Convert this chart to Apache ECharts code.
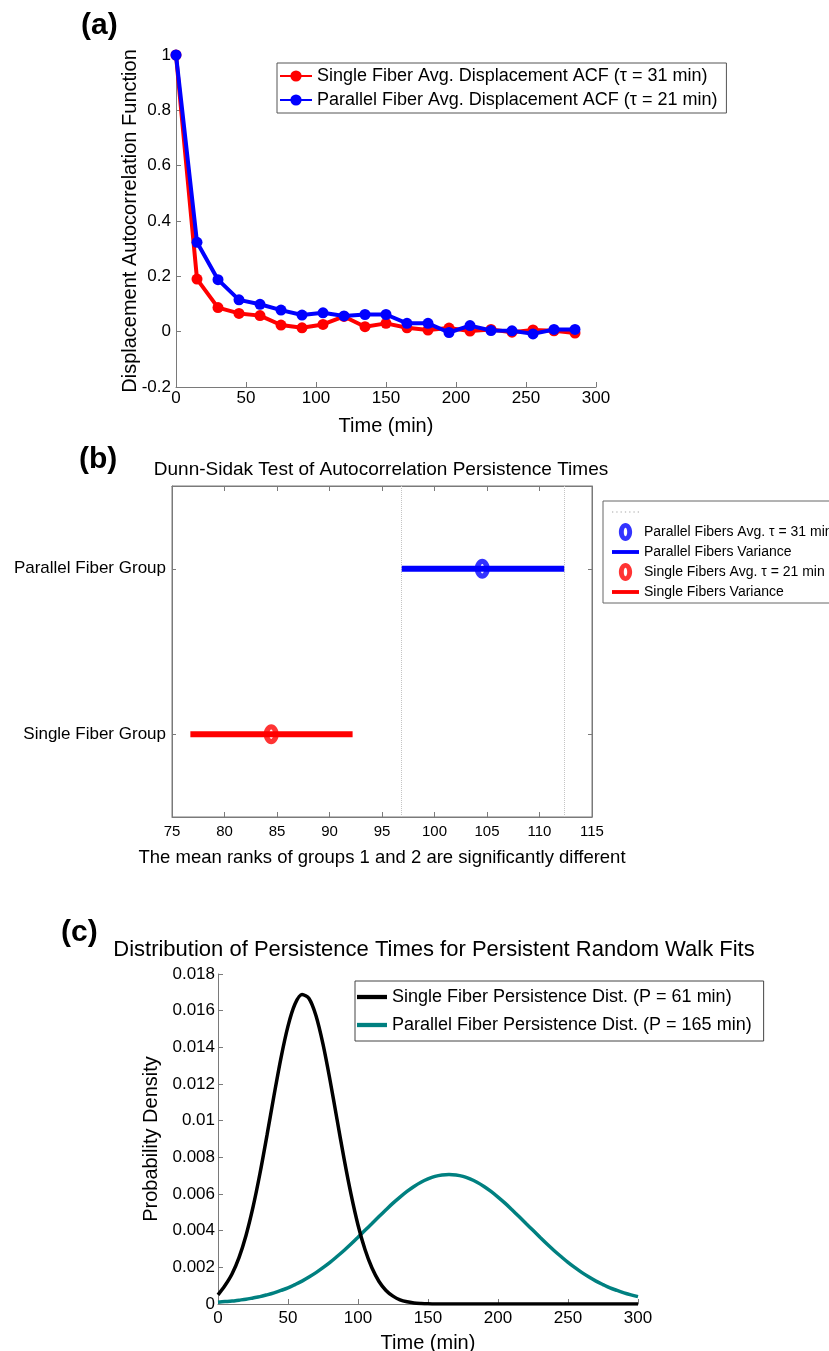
<!DOCTYPE html>
<html>
<head>
<meta charset="utf-8">
<script src="https://cdn.jsdelivr.net/npm/echarts@6/dist/echarts.min.js"></script>
<style>
html,body{margin:0;padding:0;background:#fff;}
#chart{width:829px;height:1351px;}
</style>
</head>
<body>
<div id="chart"></div>
<script>
// ---------- Panel (a): displacement autocorrelation ----------
const acfTimes = [0, 15, 30, 45, 60, 75, 90, 105, 120, 135, 150, 165, 180, 195, 210, 225, 240, 255, 270, 285];
const singleAcf = [1, 0.19, 0.087, 0.066, 0.058, 0.024, 0.014, 0.026, 0.055, 0.018, 0.03, 0.014, 0.006, 0.013, 0.002, 0.008, -0.002, 0.006, 0.003, -0.005];
const parallelAcf = [1, 0.323, 0.188, 0.115, 0.099, 0.078, 0.06, 0.068, 0.057, 0.062, 0.062, 0.03, 0.03, -0.003, 0.022, 0.004, 0.003, -0.008, 0.008, 0.008];
const acfNames = ['Single Fiber Avg. Displacement ACF (\u03c4 = 31 min)', 'Parallel Fiber Avg. Displacement ACF (\u03c4 = 21 min)'];

// ---------- Panel (b): Dunn-Sidak comparison ----------
const groups = ['Single Fiber Group', 'Parallel Fiber Group'];
const groupMeans = [84.45, 104.55];
const groupLow = [76.75, 96.86];
const groupHigh = [92.2, 112.37];
const meanNames = ['Single Fibers Avg. \u03c4 = 21 min', 'Parallel Fibers Avg. \u03c4 = 31 min'];
const varNames = ['Single Fibers Variance', 'Parallel Fibers Variance'];
const groupColors = ['#ff0000', '#0000ff'];

// ---------- Panel (c): persistence time distributions ----------
const pdfTimes = [0, 5, 10, 15, 20, 25, 30, 35, 40, 45, 50, 55, 60, 65, 70, 75, 80, 85, 90, 95, 100, 105, 110, 115, 120, 125, 130, 135, 140, 145, 150,
  155, 160, 165, 170, 175, 180, 185, 190, 195, 200, 205, 210, 215, 220, 225, 230, 235, 240, 245, 250, 255, 260, 265, 270, 275, 280, 285, 290, 295, 300];
const singlePdf = [0.0005, 0.00101, 0.00164, 0.00253, 0.00374, 0.00528, 0.00713, 0.00921, 0.01137, 0.01343, 0.01516, 0.01636, 0.01688, 0.01666, 0.01572, 0.01417,
  0.01222, 0.01008, 0.00794, 0.00599, 0.00431, 0.00297, 0.00196, 0.00123, 0.00074, 0.00043, 0.00023, 0.00012, 0.00006, 0.00003, 0.00001,
  0, 0, 0, 0, 0, 0, 0, 0, 0, 0, 0, 0, 0, 0, 0, 0, 0, 0, 0, 0, 0, 0, 0, 0, 0, 0, 0, 0, 0, 0];
const parallelPdf = [0.0001, 0.00013, 0.00016, 0.00021, 0.00026, 0.00033, 0.0004, 0.0005, 0.00061, 0.00074, 0.00088, 0.00106, 0.00125, 0.00147, 0.00171, 0.00198,
  0.00227, 0.00259, 0.00292, 0.00327, 0.00364, 0.00402, 0.00439, 0.00477, 0.00514, 0.0055, 0.00583, 0.00614, 0.00641, 0.00664, 0.00682,
  0.00696, 0.00704, 0.00707, 0.00704, 0.00696, 0.00682, 0.00664, 0.00641, 0.00614, 0.00583, 0.0055, 0.00514, 0.00477, 0.00439, 0.00402,
  0.00364, 0.00327, 0.00292, 0.00259, 0.00227, 0.00198, 0.00171, 0.00147, 0.00125, 0.00106, 0.00088, 0.00074, 0.00061, 0.0005, 0.0004];
const pdfNames = ['Single Fiber Persistence Dist. (P = 61 min)', 'Parallel Fiber Persistence Dist. (P = 165 min)'];

const FONT = 'Liberation Sans, Arial, Helvetica, sans-serif';
const AX = '#7a7a7a';
const SIG = 'sig';
const DOT = '#c4c4c4';
// hollow ellipse ring (outer clockwise, inner counter-clockwise -> hole)
const ring = 'path://M0,9.5 C0,4.25 3.13,0 7,0 C10.87,0 14,4.25 14,9.5 C14,14.75 10.87,19 7,19 C3.13,19 0,14.75 0,9.5 Z ' +
             'M5.2,9.5 C5.2,11.99 6.01,14 7,14 C7.99,14 8.8,11.99 8.8,9.5 C8.8,7.01 7.99,5 7,5 C6.01,5 5.2,7.01 5.2,9.5 Z';
const bar = 'path://M0,0 H28 V4 H0 Z';
const dots = 'path://M0,0h1.2v1.2h-1.2z M4,0h1.2v1.2h-1.2z M8,0h1.2v1.2h-1.2z M12,0h1.2v1.2h-1.2z M16,0h1.2v1.2h-1.2z M20,0h1.2v1.2h-1.2z M24,0h1.2v1.2h-1.2z';

function axisBase(extra) {
  return Object.assign({
    axisLine: {show: true, onZero: false, lineStyle: {color: AX, width: 1}},
    axisTick: {show: true, inside: true, length: 5, lineStyle: {color: AX}},
    splitLine: {show: false},
    axisLabel: {color: '#000', fontSize: 17, fontFamily: FONT},
    nameTextStyle: {color: '#000', fontSize: 20, fontFamily: FONT},
    nameMoveOverlap: false
  }, extra);
}

const series = [];
// (a)
series.push({
  name: acfNames[0], type: 'line', xAxisIndex: 0, yAxisIndex: 0,
  data: acfTimes.map((t, i) => [t, singleAcf[i]]),
  color: '#ff0000', symbol: 'circle', symbolSize: 11,
  lineStyle: {width: 4}, z: 2
});
series.push({
  name: acfNames[1], type: 'line', xAxisIndex: 0, yAxisIndex: 0,
  data: acfTimes.map((t, i) => [t, parallelAcf[i]]),
  color: '#0000ff', symbol: 'circle', symbolSize: 11,
  lineStyle: {width: 4}, z: 3
});
// (b) significance bounds
series.push({
  name: SIG, type: 'line', xAxisIndex: 1, yAxisIndex: 1, data: [],
  color: DOT, symbol: 'none',
  lineStyle: {type: 'dotted', color: DOT, width: 1},
  markLine: {
    silent: true, symbol: ['none', 'none'], label: {show: false},
    lineStyle: {type: 'dotted', color: DOT, width: 1},
    data: [{xAxis: groupLow[1]}, {xAxis: groupHigh[1]}]
  }
});
for (let i = 0; i < groups.length; i++) {
  series.push({
    name: varNames[i], type: 'line', xAxisIndex: 1, yAxisIndex: 1,
    data: [[groupLow[i], groups[i]], [groupHigh[i], groups[i]]],
    color: groupColors[i], symbol: 'none', lineStyle: {width: 6}, z: 3
  });
  series.push({
    name: meanNames[i], type: 'scatter', xAxisIndex: 1, yAxisIndex: 1,
    data: [[groupMeans[i], groups[i]]],
    symbol: ring, symbolSize: [15, 20], symbolKeepAspect: false,
    itemStyle: {color: groupColors[i], borderWidth: 0}, z: 5
  });
}
// (c)
series.push({
  name: pdfNames[0], type: 'line', xAxisIndex: 3, yAxisIndex: 3,
  data: pdfTimes.map((t, i) => [t, singlePdf[i]]),
  color: '#000000', symbol: 'none', smooth: 0.3,
  lineStyle: {width: 3.5}, z: 3
});
series.push({
  name: pdfNames[1], type: 'line', xAxisIndex: 3, yAxisIndex: 3,
  data: pdfTimes.map((t, i) => [t, parallelPdf[i]]),
  color: '#008080', symbol: 'none', smooth: 0.3,
  lineStyle: {width: 3.5}, z: 2
});

const option = {
  animation: false,
  backgroundColor: '#ffffff',
  textStyle: {fontFamily: FONT},
  grid: [
    {left: 176, top: 55, width: 420, height: 332, outerBoundsMode: 'none'},
    {left: 172, top: 486, width: 420, height: 331, show: true, borderColor: AX, borderWidth: 1, outerBoundsMode: 'none'},
    {left: 218, top: 974, width: 420, height: 330, outerBoundsMode: 'none'}
  ],
  xAxis: [
    axisBase({type: 'value', gridIndex: 0, min: 0, max: 300, interval: 50,
      name: 'Time (min)', nameLocation: 'middle', nameGap: 29,
      axisLabel: {color: '#000', fontSize: 17, fontFamily: FONT, margin: 3}}),
    axisBase({type: 'value', gridIndex: 1, min: 75, max: 115, interval: 5,
      name: 'The mean ranks of groups 1 and 2 are significantly different', nameLocation: 'middle', nameGap: 31,
      nameTextStyle: {color: '#000', fontSize: 18.5, fontFamily: FONT},
      axisLabel: {color: '#000', fontSize: 15, fontFamily: FONT, margin: 7}}),
    axisBase({type: 'value', gridIndex: 1, position: 'top', min: 75, max: 115, interval: 5,
      axisLabel: {show: false}}),
    axisBase({type: 'value', gridIndex: 2, min: 0, max: 300, interval: 50,
      name: 'Time (min)', nameLocation: 'middle', nameGap: 29,
      axisLabel: {color: '#000', fontSize: 17, fontFamily: FONT, margin: 6}})
  ],
  yAxis: [
    axisBase({type: 'value', gridIndex: 0, min: -0.2, max: 1, interval: 0.2,
      name: 'Displacement Autocorrelation Function', nameLocation: 'middle', nameGap: 36,
      axisLabel: {color: '#000', fontSize: 17, fontFamily: FONT, margin: 5}}),
    axisBase({type: 'category', gridIndex: 1, data: groups, boundaryGap: true,
      axisTick: {show: true, inside: true, length: 4, alignWithLabel: true, lineStyle: {color: AX}},
      axisLabel: {color: '#000', fontSize: 17, fontFamily: FONT, margin: 6}}),
    axisBase({type: 'category', gridIndex: 1, position: 'right', data: groups, boundaryGap: true,
      axisTick: {show: true, inside: true, length: 4, alignWithLabel: true, lineStyle: {color: AX}},
      axisLabel: {show: false}}),
    axisBase({type: 'value', gridIndex: 2, min: 0, max: 0.018, interval: 0.002,
      name: 'Probability Density', nameLocation: 'middle', nameGap: 57,
      axisLabel: {color: '#000', fontSize: 17, fontFamily: FONT, margin: 3}})
  ],
  legend: [
    {
      data: acfNames, left: 277, top: 63, orient: 'vertical',
      itemWidth: 32, itemHeight: 14, itemGap: 6, padding: [4, 9, 4, 2],
      borderColor: '#555', borderWidth: 1, backgroundColor: '#fff',
      textStyle: {color: '#000', fontSize: 18, fontFamily: FONT}, selectedMode: false
    },
    {
      data: [
        {name: SIG, icon: dots, itemStyle: {color: DOT, borderWidth: 0}},
        {name: meanNames[1], icon: ring, itemStyle: {color: groupColors[1], borderWidth: 0}},
        {name: varNames[1], icon: bar, itemStyle: {color: groupColors[1], borderWidth: 0}},
        {name: meanNames[0], icon: ring, itemStyle: {color: groupColors[0], borderWidth: 0}},
        {name: varNames[0], icon: bar, itemStyle: {color: groupColors[0], borderWidth: 0}}
      ],
      formatter: function (n) { return n === SIG ? ' ' : n; },
      left: 603, top: 501, orient: 'vertical',
      itemWidth: 27, itemHeight: 18, itemGap: 2, padding: [2, 6, 2, 9],
      borderColor: '#666', borderWidth: 1, backgroundColor: '#fff',
      textStyle: {color: '#000', fontSize: 14, lineHeight: 18, fontFamily: FONT}, selectedMode: false
    },
    {
      data: [
        {name: pdfNames[0], icon: bar, itemStyle: {color: '#000000', borderWidth: 0}},
        {name: pdfNames[1], icon: bar, itemStyle: {color: '#008080', borderWidth: 0}}
      ],
      left: 355, top: 981, orient: 'vertical',
      itemWidth: 30, itemHeight: 14, itemGap: 10, padding: [7, 12, 7, 2],
      borderColor: '#444', borderWidth: 1, backgroundColor: '#fff',
      textStyle: {color: '#000', fontSize: 18, fontFamily: FONT}, selectedMode: false
    }
  ],
  graphic: [
    {type: 'text', x: 81, y: 26, style: {text: '(a)', font: 'bold 30px ' + FONT, fill: '#000', textAlign: 'left', textVerticalAlign: 'middle'}},
    {type: 'text', x: 79, y: 460, style: {text: '(b)', font: 'bold 30px ' + FONT, fill: '#000', textAlign: 'left', textVerticalAlign: 'middle'}},
    {type: 'text', x: 61, y: 933, style: {text: '(c)', font: 'bold 30px ' + FONT, fill: '#000', textAlign: 'left', textVerticalAlign: 'middle'}},
    {type: 'text', x: 381, y: 470, style: {text: 'Dunn-Sidak Test of Autocorrelation Persistence Times', font: '19px ' + FONT, fill: '#000', textAlign: 'center', textVerticalAlign: 'middle'}},
    {type: 'text', x: 434, y: 950, style: {text: 'Distribution of Persistence Times for Persistent Random Walk Fits', font: '22px ' + FONT, fill: '#000', textAlign: 'center', textVerticalAlign: 'middle'}}
  ],
  series: series
};

const chart = echarts.init(document.getElementById('chart'), null, {renderer: 'canvas'});
chart.setOption(option);
</script>
</body>
</html>
